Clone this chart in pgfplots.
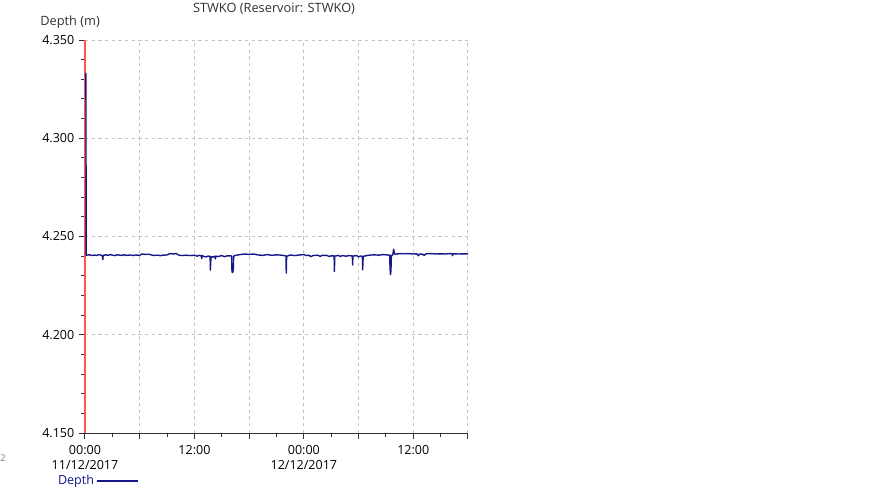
\documentclass[border=0pt]{standalone}
\usepackage{fontspec}
\setmainfont{Open Sans}
\usepackage{pgfplots}
\pgfplotsset{compat=1.18}
\definecolor{depthblue}{RGB}{22,22,135}
\definecolor{redline}{RGB}{255,85,85}
\definecolor{gridgray}{RGB}{195,195,195}
\definecolor{axisgray}{RGB}{50,50,50}
\begin{document}
\begin{tikzpicture}[x=0.75pt,y=0.75pt]
\path[use as bounding box] (-85,-54) rectangle (786,433);
\begin{axis}[
  at={(0,0)}, anchor=south west,
  scale only axis, width=287.25pt, height=294.75pt,
  xmin=0, xmax=42, ymin=4.15, ymax=4.35,
  clip=false,
  axis x line*=bottom, axis y line*=left,
  axis line style={axisgray, line width=0.75pt},
  every tick/.style={axisgray, line width=0.75pt},
  tick align=outside,
  major tick length=4.5pt, minor tick length=3pt,
  xtick={0,6,...,42},
  xticklabels={{00:00\\11/12/2017},,{12:00},,{00:00\\12/12/2017},,{12:00},},
  minor xtick={3,9,...,39},
  ytick={4.15,4.2,...,4.36},
  minor y tick num=4,
  grid=major,
  major grid style={gridgray, line width=0.75pt, dash pattern=on 2.5pt off 2.5pt},
  xticklabel style={align=center, font=\fontsize{9.4}{11.2}\selectfont, yshift=-1pt},
  yticklabel style={font=\fontsize{9.4}{11}\selectfont,
    /pgf/number format/.cd, fixed, fixed zerofill, precision=3, assume math mode=true},
  legend style={at={(rel axis cs:-0.078,-0.122)}, anchor=west, draw=none, fill=none,
    legend plot pos=right, font=\fontsize{9.4}{11}\selectfont, text=depthblue, inner sep=0pt,
    legend cell align=left},
]
\addplot[redline, line width=1pt, forget plot] coordinates {(0,4.15) (0,4.35)};
\addplot[depthblue, line width=1.05pt, line join=round, line cap=round,
  legend image code/.code={\path (0pt,0pt) -- (30pt,0pt); \draw[depthblue, line width=0.9pt] (7pt,0pt) -- (30pt,0pt);}]
coordinates {
(0.10,4.3330) (0.13,4.2405) (0.5,4.2407) (0.8,4.2403) (1.0,4.2406) (1.3,4.2403) (1.5,4.2408) (1.9,4.2403)
(1.95,4.2382) (2.0,4.2404) (2.3,4.2407) (2.5,4.2404) (2.8,4.2408) (3.0,4.2405) (3.3,4.2403) (3.5,4.2407) (4.0,4.2404)
(4.3,4.2407) (4.5,4.2404) (5.0,4.2406) (5.3,4.2403) (5.5,4.2406) (6.0,4.2404) (6.2,4.2411) (6.6,4.2409) (7.0,4.2410)
(7.3,4.2406) (7.5,4.2404) (8.0,4.2405) (8.3,4.2402) (8.5,4.2405) (9.0,4.2406) (9.3,4.2413) (9.7,4.2411) (10.0,4.2413)
(10.3,4.2405) (10.7,4.2403) (11.0,4.2405) (11.5,4.2403) (12.0,4.2405) (12.3,4.2400) (12.5,4.2404) (12.75,4.2402)
(12.8,4.2388) (12.85,4.2403) (13.0,4.2399) (13.3,4.2396) (13.5,4.2401) (13.72,4.2398) (13.75,4.2329) (13.78,4.2362)
(13.82,4.2398) (14.0,4.2395) (14.25,4.2400) (14.3,4.2386) (14.35,4.2400) (14.6,4.2398) (15.0,4.2403) (15.3,4.2397)
(15.5,4.2401) (16.0,4.2402) (16.08,4.2398) (16.12,4.2320) (16.2,4.2317) (16.26,4.2330) (16.3,4.2400) (16.5,4.2404)
(17.0,4.2408) (17.5,4.2411) (18.0,4.2409) (18.5,4.2411) (19.0,4.2406) (19.5,4.2404) (20.0,4.2408) (20.5,4.2404)
(21.0,4.2407) (21.5,4.2405) (22.0,4.2402) (22.04,4.2400) (22.07,4.2314) (22.11,4.2399) (22.5,4.2406) (23.0,4.2403)
(23.5,4.2406) (24.0,4.2408) (24.3,4.2403) (24.5,4.2405) (24.8,4.2398) (25.0,4.2403) (25.5,4.2405) (25.8,4.2399)
(26.0,4.2404) (26.5,4.2404) (26.8,4.2398) (27.0,4.2402) (27.32,4.2401) (27.35,4.2322) (27.39,4.2400) (27.8,4.2404)
(28.0,4.2398) (28.2,4.2403) (28.6,4.2400) (29.0,4.2403) (29.32,4.2401) (29.35,4.2355) (29.38,4.2400) (29.8,4.2403)
(30.0,4.2396) (30.2,4.2401) (30.42,4.2399) (30.45,4.2330) (30.48,4.2372) (30.52,4.2399) (30.8,4.2402) (31.2,4.2405)
(31.7,4.2407) (32.2,4.2405) (32.7,4.2408) (33.2,4.2406) (33.42,4.2405) (33.45,4.2340) (33.5,4.2306) (33.55,4.2325)
(33.6,4.2404) (33.75,4.2406) (33.85,4.2435) (33.95,4.2412) (34.05,4.2410) (34.5,4.2413) (35.0,4.2412) (35.5,4.2413)
(36.0,4.2411) (36.4,4.2412) (36.55,4.2402) (36.7,4.2411) (37.0,4.2410) (37.2,4.2404) (37.4,4.2412) (38.0,4.2413)
(38.5,4.2411) (39.0,4.2412) (39.5,4.2411) (40.0,4.2413) (40.25,4.2412) (40.3,4.2403) (40.35,4.2412)
(41.0,4.2411) (41.5,4.2412) (42.0,4.2411)
};
\addlegendentry{Depth}
\end{axis}
\node[font=\fontsize{9.6}{11}\selectfont, text=axisgray] at (189,424) {STWKO (Reservoir: STWKO)};
\node[font=\fontsize{9.6}{11}\selectfont, text=axisgray, anchor=west, inner sep=0pt] at (-45,411) {Depth (m)};
\node[font=\fontsize{7}{8}\selectfont, text=gray, inner sep=0pt] at (-82,-25) {2};
\end{tikzpicture}
\end{document}
